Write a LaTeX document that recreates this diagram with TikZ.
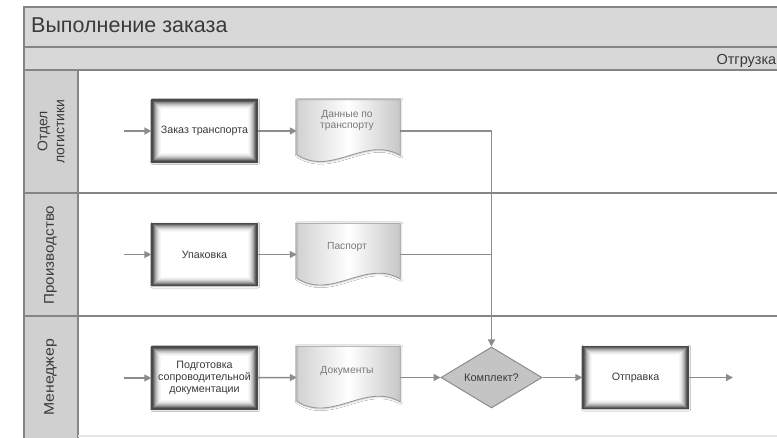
\documentclass[tikz,border=0pt]{standalone}
\usepackage{fontspec}
\setmainfont{Liberation Sans}
\usetikzlibrary{arrows.meta,shapes.geometric,shadows.blur,calc}

\definecolor{bandfill}{HTML}{D8D8D8}
\definecolor{frame}{HTML}{858585}
\definecolor{lanefill}{HTML}{D0D0D0}
\definecolor{flow}{HTML}{8C8C8C}
\definecolor{ink}{HTML}{3A3A3A}
\definecolor{docink}{HTML}{7A7A7A}
\definecolor{boxedge}{HTML}{4A4A4A}
\definecolor{docedge}{HTML}{9A9A9A}
\definecolor{decfill}{HTML}{C4C4C4}

\tikzset{
  frameline/.style={draw=frame, line width=1.4pt},
  lanelabel/.style={rotate=90, align=center, text=ink,
    font=\fontsize{14}{17}\selectfont},
  procbox/.style={draw=boxedge, line width=1.3pt, fill=white,
    minimum width=105pt, minimum height=62pt, inner sep=2pt,
    align=center, text=ink, font=\fontsize{10.7}{12}\selectfont,
    blur shadow={shadow blur steps=6, shadow xshift=0.6pt,
      shadow yshift=-0.6pt, shadow opacity=35, shadow blur radius=2pt},
    path picture={
      \foreach \i/\c in {1/62,2/48,3/36,4/26,5/18,6/11,7/6,8/3}
        \draw[black!\c, line width=1.1pt]
          ($(path picture bounding box.north west)+(\i+0.4,\i+0.4)$)
          rectangle
          ($(path picture bounding box.south east)+(-\i-0.4,-\i-0.4)$);
    }},
  docarea/.style={minimum width=103pt, minimum height=62pt, inner sep=0pt},
  doctext/.style={align=center, text=docink,
    font=\fontsize{10.3}{11}\selectfont},
  decision/.style={diamond, draw=flow, line width=1pt, fill=decfill,
    minimum width=101pt, minimum height=61pt, aspect=1.65, inner sep=0pt,
    text=ink, font=\fontsize{11}{12}\selectfont},
  flowline/.style={draw=flow, line width=1.5pt,
    -{Triangle[length=7pt,width=7pt]}},
  plainflow/.style={draw=flow, line width=1.5pt}
}

% document symbol with a wavy lower edge, drawn over a named area node
\newcommand\docsymbol[1]{%
  \path[draw=docedge, line width=0.9pt, left color=black!18,
        right color=black!22, middle color=white,
        blur shadow={shadow blur steps=5, shadow xshift=0.6pt,
          shadow yshift=-0.6pt, shadow opacity=25, shadow blur radius=2pt}]
    (#1.north west) -- (#1.north east)
    -- ($(#1.north east)!0.89!(#1.south east)$)
    .. controls ($(#1.south east)+(-35,-27)$) and ($(#1.south west)+(35,15)$)
    .. ($(#1.north west)!0.88!(#1.south west)$) -- cycle;}

\begin{document}
\begin{tikzpicture}[x=1pt,y=-1pt]
  \useasboundingbox[fill=white] (0,0) rectangle (777,438);

  % pool frame: title band, phase band, lane header column
  \path[fill=bandfill] (24,7) rectangle (777,70);
  \path[fill=lanefill] (24,70) rectangle (78,438);
  \draw[frameline] (777,7) -- (24,7) -- (24,438);
  \draw[frameline] (24,47) -- (777,47);
  \draw[frameline] (24,70) -- (777,70);
  \draw[frameline] (24,193) -- (777,193);
  \draw[frameline] (24,316) -- (777,316);
  \draw[frameline] (78,70) -- (78,438);
  \draw[black!10, line width=1pt] (78,436) -- (777,436);

  \node[anchor=base west, inner sep=0pt, text=ink,
        font=\fontsize{21.5}{24}\selectfont]
    (title) at (31,33) {Выполнение заказа};
  \node[anchor=base east, inner sep=0pt, text=ink,
        font=\fontsize{14.5}{16}\selectfont]
    (phase) at (776.5,64.5) {Отгрузка};

  % lane headers
  \node[lanelabel] (lane1) at (51,131.5) {Отдел\\логистики};
  \node[lanelabel, xscale=1.08] (lane2) at (50.5,255) {Производство};
  \node[lanelabel, xscale=1.13] (lane3) at (50.5,377.5) {Менеджер};

  % lane 1: logistics
  \coordinate (s1) at (124,131);
  \node[procbox] (p1) at (204.5,131) {Заказ транспорта};
  \node[docarea] (d1) at (348.5,131) {};
  \docsymbol{d1}
  \node[doctext] (d1t) at (347,121) {Данные по\\транспорту};

  % lane 2: production
  \coordinate (s2) at (124,254.5);
  \node[procbox] (p2) at (204.5,254.5) {Упаковка};
  \node[docarea] (d2) at (348.5,254.5) {};
  \docsymbol{d2}
  \node[doctext] (d2t) at (347,247) {Паспорт};

  % lane 3: manager
  \coordinate (s3) at (124,378);
  \node[procbox] (p3) at (204.5,378)
    {Подготовка\\сопроводительной\\документации};
  \node[docarea] (d3) at (348.5,377.5) {};
  \docsymbol{d3}
  \node[doctext] (d3t) at (347,371) {Документы};
  \node[decision] (k) at (491.5,377.5) {Комплект?};
  \node[procbox] (p4) at (635.5,377.5) {Отправка};
  \coordinate (out) at (733,377.5);

  % flow connectors
  \draw[flowline] (s1) -- (p1);
  \draw[flowline] (p1) -- (d1.west);
  \draw[flowline] (s2) -- (p2);
  \draw[flowline] (p2) -- (d2.west);
  \draw[flowline] (s3) -- (p3);
  \draw[flowline] (p3) -- (d3.west);
  \draw[flowline] (d1.east) -| (k.north);
  \draw[plainflow] (d2.east) -- (d2.east -| k.north);
  \draw[flowline] (d3.east) -- (k.west);
  \draw[flowline] (k.east) -- (p4.west);
  \draw[flowline] (p4.east) -- (out);
\end{tikzpicture}
\end{document}
